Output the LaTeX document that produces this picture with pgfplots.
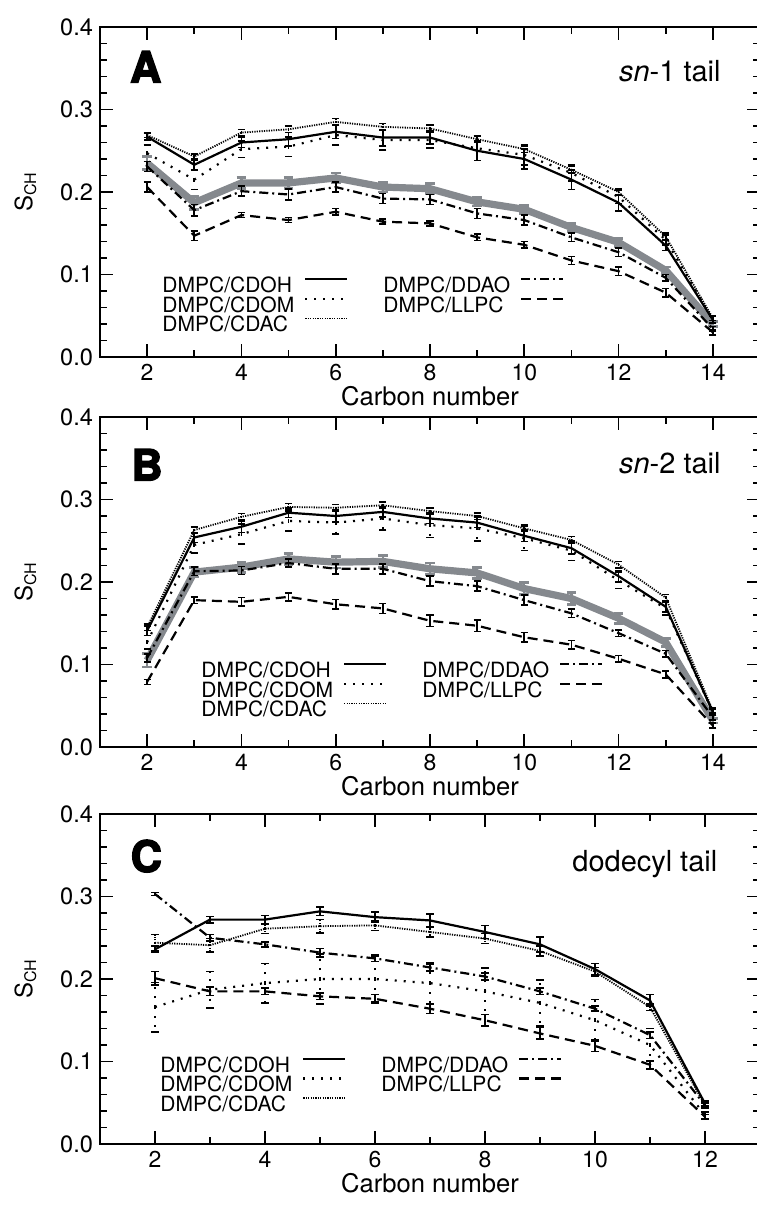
\documentclass[border=0pt]{standalone}
\usepackage{fontspec}
\setmainfont{TeX Gyre Heros}
\newfontfamily\blackfont{TeX Gyre Heros}[BoldFeatures={FakeBold=3.5}]
\usepackage{pgfplots}
\pgfplotsset{compat=1.18}
\definecolor{grayline}{RGB}{133,137,142}

\pgfplotsset{
  panel/.style={
    scale only axis, width=330pt, height=165pt, anchor=north west,
    ymin=0, ymax=0.4, ytick={0,0.1,0.2,0.3,0.4}, minor y tick num=4,
    tick align=inside, major tick length=6.5pt, minor tick length=3.5pt,
    axis line style={line width=1.4pt},
    tick style={black, line width=0.9pt},
    xticklabel style={font=\fontsize{11.5}{12}\selectfont},
    yticklabel style={font=\fontsize{11.8}{12}\selectfont,
      /pgf/number format/.cd, fixed, fixed zerofill, precision=1},
    /pgf/number format/assume math mode=true,
    ylabel={S\textsubscript{CH}},
    xlabel={Carbon number},
    label style={font=\fontsize{12.8}{13}\selectfont},
    ylabel style={font=\fontsize{12}{12}\selectfont, yshift=5pt},
    xlabel style={yshift=4pt},
    legend columns=2,
    legend plot pos=right,
    legend cell align=left,
    legend image code/.code={\draw[##1] (0pt,2.8pt) -- (21pt,2.8pt);},
    legend style={draw=none, fill=none, inner sep=0pt, anchor=north west,
      font=\fontsize{10.5}{10}\selectfont, row sep=2.2pt,
      nodes={inner sep=0pt, text height=7.6pt, text depth=0pt},
      /tikz/every odd column/.append style={column sep=5pt},
      /tikz/every even column/.append style={column sep=17.5pt}},
  },
  eb/.style={error bars/y dir=both, error bars/y explicit,
    error bars/error bar style={line width=0.8pt},
    error bars/error mark options={rotate=90, solid, mark size=1.8pt, line width=0.8pt}},
  ebs/.style={eb, error bars/error bar style={solid}},
  cdoh/.style={black, line width=1.1pt, solid},
  cdom/.style={black, line width=1.1pt, dash pattern=on 1pt off 3.5pt},
  cdac/.style={black, line width=0.9pt, dash pattern=on 0.6pt off 0.6pt},
  ddao/.style={black, line width=1.1pt, dash pattern=on 4.5pt off 2pt on 1pt off 2pt},
  llpc/.style={black, line width=1.1pt, dash pattern=on 5pt off 3pt},
  gline/.style={grayline, line width=3.6pt, solid},
  geb/.style={error bars/y dir=both, error bars/y explicit,
    error bars/error bar style={line width=1.2pt, grayline},
    error bars/error mark options={rotate=90, solid, grayline, mark size=2.4pt, line width=1.4pt}},
}

\begin{document}
\begin{tikzpicture}
\path[use as bounding box] (0,0) rectangle (378pt,-602.5pt);

% ---------------- A: sn-1 tail
\begin{axis}[panel, name=A, at={(50pt,-13.5pt)},
  xmin=1, xmax=15, xtick={2,4,...,14}, minor xtick={3,5,...,13},
  legend style={at={(rel axis cs:0.094,0.243)}}]
\addplot[gline, geb, forget plot] coordinates {
  (2,0.235) +- (0,0.008) (3,0.187) +- (0,0.008) (4,0.211) +- (0,0.007)
  (5,0.211) +- (0,0.007) (6,0.217) +- (0,0.006) (7,0.206) +- (0,0.006)
  (8,0.204) +- (0,0.006) (9,0.188) +- (0,0.005) (10,0.179) +- (0,0.005)
  (11,0.157) +- (0,0.005) (12,0.139) +- (0,0.005) (13,0.105) +- (0,0.004)
  (14,0.040) +- (0,0.003)};
\addplot[cdoh, eb] coordinates {
  (2,0.267) +- (0,0.004) (3,0.233) +- (0,0.006) (4,0.260) +- (0,0.006)
  (5,0.264) +- (0,0.008) (6,0.273) +- (0,0.008) (7,0.266) +- (0,0.010)
  (8,0.266) +- (0,0.008) (9,0.250) +- (0,0.012) (10,0.240) +- (0,0.012)
  (11,0.215) +- (0,0.012) (12,0.187) +- (0,0.010) (13,0.135) +- (0,0.006)
  (14,0.045) +- (0,0.004)};
\addlegendentry{DMPC/CDOH}
\addplot[ddao, ebs] coordinates {
  (2,0.231) +- (0,0.006) (3,0.178) +- (0,0.007) (4,0.201) +- (0,0.006)
  (5,0.197) +- (0,0.007) (6,0.206) +- (0,0.006) (7,0.192) +- (0,0.006)
  (8,0.191) +- (0,0.006) (9,0.174) +- (0,0.006) (10,0.166) +- (0,0.006)
  (11,0.145) +- (0,0.005) (12,0.127) +- (0,0.005) (13,0.096) +- (0,0.004)
  (14,0.034) +- (0,0.003)};
\addlegendentry{DMPC/DDAO}
\addplot[cdom, eb] coordinates {
  (2,0.247) +- (0,0.010) (3,0.215) +- (0,0.012) (4,0.252) +- (0,0.010)
  (5,0.255) +- (0,0.012) (6,0.269) +- (0,0.012) (7,0.263) +- (0,0.012)
  (8,0.263) +- (0,0.010) (9,0.253) +- (0,0.015) (10,0.245) +- (0,0.012)
  (11,0.223) +- (0,0.010) (12,0.194) +- (0,0.008) (13,0.142) +- (0,0.006)
  (14,0.045) +- (0,0.004)};
\addlegendentry{DMPC/CDOM}
\addplot[llpc, ebs] coordinates {
  (2,0.206) +- (0,0.006) (3,0.147) +- (0,0.006) (4,0.172) +- (0,0.003)
  (5,0.166) +- (0,0.003) (6,0.176) +- (0,0.004) (7,0.164) +- (0,0.003)
  (8,0.162) +- (0,0.003) (9,0.145) +- (0,0.004) (10,0.136) +- (0,0.004)
  (11,0.117) +- (0,0.005) (12,0.104) +- (0,0.005) (13,0.078) +- (0,0.005)
  (14,0.030) +- (0,0.003)};
\addlegendentry{DMPC/LLPC}
\addplot[cdac, eb] coordinates {
  (2,0.269) +- (0,0.003) (3,0.243) +- (0,0.003) (4,0.272) +- (0,0.004)
  (5,0.276) +- (0,0.004) (6,0.285) +- (0,0.004) (7,0.279) +- (0,0.004)
  (8,0.277) +- (0,0.004) (9,0.264) +- (0,0.004) (10,0.252) +- (0,0.004)
  (11,0.227) +- (0,0.004) (12,0.200) +- (0,0.004) (13,0.146) +- (0,0.004)
  (14,0.047) +- (0,0.003)};
\addlegendentry{DMPC/CDAC}
\node[anchor=base west, font=\blackfont\bfseries\fontsize{21.5}{24}\selectfont]
  at (rel axis cs:0.035,0.832) {A};
\node[anchor=base east, font=\fontsize{14.5}{16}\selectfont]
  at (rel axis cs:0.951,0.835) {\textit{sn}-1 tail};
\end{axis}

% ---------------- B: sn-2 tail
\begin{axis}[panel, name=B, at={(50pt,-208.5pt)},
  xmin=1, xmax=15, xtick={2,4,...,14}, minor xtick={3,5,...,13},
  legend style={at={(rel axis cs:0.153,0.258)}}]
\addplot[gline, geb, forget plot] coordinates {
  (2,0.105) +- (0,0.008) (3,0.212) +- (0,0.006) (4,0.218) +- (0,0.006)
  (5,0.228) +- (0,0.007) (6,0.224) +- (0,0.007) (7,0.225) +- (0,0.007)
  (8,0.216) +- (0,0.007) (9,0.211) +- (0,0.007) (10,0.192) +- (0,0.007)
  (11,0.180) +- (0,0.007) (12,0.156) +- (0,0.006) (13,0.127) +- (0,0.005)
  (14,0.032) +- (0,0.003)};
\addplot[cdoh, eb] coordinates {
  (2,0.141) +- (0,0.006) (3,0.254) +- (0,0.006) (4,0.267) +- (0,0.007)
  (5,0.284) +- (0,0.006) (6,0.280) +- (0,0.007) (7,0.285) +- (0,0.006)
  (8,0.277) +- (0,0.006) (9,0.272) +- (0,0.006) (10,0.256) +- (0,0.007)
  (11,0.241) +- (0,0.007) (12,0.207) +- (0,0.007) (13,0.170) +- (0,0.006)
  (14,0.042) +- (0,0.004)};
\addlegendentry{DMPC/CDOH}
\addplot[ddao, ebs] coordinates {
  (2,0.108) +- (0,0.005) (3,0.213) +- (0,0.005) (4,0.214) +- (0,0.005)
  (5,0.223) +- (0,0.005) (6,0.216) +- (0,0.006) (7,0.216) +- (0,0.006)
  (8,0.201) +- (0,0.006) (9,0.195) +- (0,0.006) (10,0.178) +- (0,0.006)
  (11,0.162) +- (0,0.005) (12,0.138) +- (0,0.004) (13,0.113) +- (0,0.004)
  (14,0.036) +- (0,0.003)};
\addlegendentry{DMPC/DDAO}
\addplot[cdom, eb] coordinates {
  (2,0.127) +- (0,0.008) (3,0.245) +- (0,0.010) (4,0.258) +- (0,0.012)
  (5,0.274) +- (0,0.012) (6,0.272) +- (0,0.014) (7,0.277) +- (0,0.014)
  (8,0.269) +- (0,0.015) (9,0.265) +- (0,0.015) (10,0.253) +- (0,0.015)
  (11,0.238) +- (0,0.012) (12,0.202) +- (0,0.010) (13,0.168) +- (0,0.008)
  (14,0.042) +- (0,0.004)};
\addlegendentry{DMPC/CDOM}
\addplot[llpc, ebs] coordinates {
  (2,0.079) +- (0,0.003) (3,0.178) +- (0,0.004) (4,0.176) +- (0,0.005)
  (5,0.182) +- (0,0.005) (6,0.173) +- (0,0.006) (7,0.168) +- (0,0.006)
  (8,0.153) +- (0,0.007) (9,0.147) +- (0,0.007) (10,0.133) +- (0,0.006)
  (11,0.124) +- (0,0.005) (12,0.107) +- (0,0.004) (13,0.088) +- (0,0.004)
  (14,0.026) +- (0,0.003)};
\addlegendentry{DMPC/LLPC}
\addplot[cdac, eb] coordinates {
  (2,0.145) +- (0,0.004) (3,0.263) +- (0,0.004) (4,0.279) +- (0,0.004)
  (5,0.291) +- (0,0.004) (6,0.290) +- (0,0.004) (7,0.293) +- (0,0.004)
  (8,0.286) +- (0,0.004) (9,0.280) +- (0,0.004) (10,0.265) +- (0,0.004)
  (11,0.251) +- (0,0.004) (12,0.221) +- (0,0.004) (13,0.181) +- (0,0.004)
  (14,0.044) +- (0,0.003)};
\addlegendentry{DMPC/CDAC}
\node[anchor=base west, font=\blackfont\bfseries\fontsize{21.5}{24}\selectfont]
  at (rel axis cs:0.037,0.808) {B};
\node[anchor=base east, font=\fontsize{14.5}{16}\selectfont]
  at (rel axis cs:0.951,0.828) {\textit{sn}-2 tail};
\end{axis}

% ---------------- C: dodecyl tail
\begin{axis}[panel, name=C, at={(50pt,-407pt)},
  xmin=1, xmax=13, xtick={2,4,...,12}, minor xtick={3,5,...,11},
  legend style={at={(rel axis cs:0.091,0.265)}}]
\addplot[cdoh, eb] coordinates {
  (2,0.236) +- (0,0.004) (3,0.272) +- (0,0.004) (4,0.272) +- (0,0.005)
  (5,0.282) +- (0,0.005) (6,0.275) +- (0,0.006) (7,0.271) +- (0,0.008)
  (8,0.257) +- (0,0.008) (9,0.242) +- (0,0.009) (10,0.212) +- (0,0.007)
  (11,0.174) +- (0,0.007) (12,0.049) +- (0,0.003)};
\addlegendentry{DMPC/CDOH}
\addplot[ddao, ebs] coordinates {
  (2,0.303) +- (0,0.002) (3,0.250) +- (0,0.004) (4,0.242) +- (0,0.003)
  (5,0.232) +- (0,0.005) (6,0.225) +- (0,0.004) (7,0.214) +- (0,0.004)
  (8,0.203) +- (0,0.004) (9,0.185) +- (0,0.004) (10,0.164) +- (0,0.003)
  (11,0.132) +- (0,0.004) (12,0.047) +- (0,0.003)};
\addlegendentry{DMPC/DDAO}
\addplot[cdom, eb] coordinates {
  (2,0.166) +- (0,0.030) (3,0.187) +- (0,0.022) (4,0.195) +- (0,0.024)
  (5,0.200) +- (0,0.030) (6,0.200) +- (0,0.028) (7,0.195) +- (0,0.025)
  (8,0.185) +- (0,0.028) (9,0.171) +- (0,0.028) (10,0.150) +- (0,0.025)
  (11,0.120) +- (0,0.020) (12,0.035) +- (0,0.004)};
\addlegendentry{DMPC/CDOM}
\addplot[llpc, ebs] coordinates {
  (2,0.201) +- (0,0.008) (3,0.185) +- (0,0.005) (4,0.185) +- (0,0.004)
  (5,0.179) +- (0,0.004) (6,0.176) +- (0,0.005) (7,0.164) +- (0,0.006)
  (8,0.150) +- (0,0.007) (9,0.134) +- (0,0.007) (10,0.119) +- (0,0.007)
  (11,0.096) +- (0,0.005) (12,0.033) +- (0,0.003)};
\addlegendentry{DMPC/LLPC}
\addplot[cdac, eb] coordinates {
  (2,0.244) +- (0,0.010) (3,0.241) +- (0,0.008) (4,0.261) +- (0,0.006)
  (5,0.264) +- (0,0.008) (6,0.265) +- (0,0.006) (7,0.257) +- (0,0.006)
  (8,0.249) +- (0,0.006) (9,0.234) +- (0,0.006) (10,0.209) +- (0,0.005)
  (11,0.166) +- (0,0.004) (12,0.047) +- (0,0.003)};
\addlegendentry{DMPC/CDAC}
\node[anchor=base west, font=\blackfont\bfseries\fontsize{21.5}{24}\selectfont]
  at (rel axis cs:0.036,0.825) {C};
\node[anchor=base east, font=\fontsize{14.5}{16}\selectfont]
  at (rel axis cs:0.946,0.825) {dodecyl tail};
\end{axis}
\end{tikzpicture}
\end{document}
